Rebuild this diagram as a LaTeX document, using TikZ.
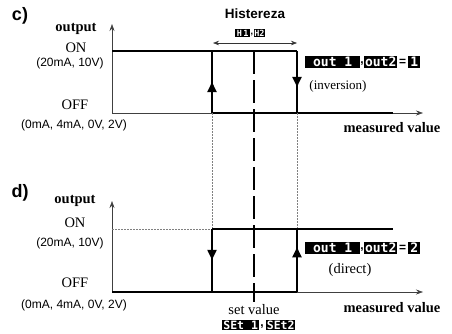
\documentclass[tikz,border=0pt]{standalone}
\usepackage{fontspec}
\setmainfont{Liberation Serif}
\setsansfont{Liberation Sans}
\newfontfamily\segfont{DejaVu Sans Mono}
\usetikzlibrary{arrows.meta,decorations.markings}
\tikzset{
  axis/.style={line width=0.6pt, black!75, -{Stealth[length=7pt,width=5pt]}},
  sig/.style={line width=2pt, black},
  guide/.style={line width=0.5pt, black!50, dash pattern=on 1.5pt off 1.5pt},
  centerline/.style={line width=1.5pt, black, dash pattern=on 23pt off 6pt},
  tri/.style={postaction={decorate, decoration={markings,
      mark=at position #1 with {\arrow{Triangle[length=10pt,width=9pt]}}}}},
  lbl/.style={inner sep=0pt, font=\fontsize{14.5}{16}\selectfont},
  blbl/.style={inner sep=0pt, font=\bfseries\fontsize{14.5}{16}\selectfont},
  sanslbl/.style={inner sep=0pt, font=\sffamily\fontsize{12}{14}\selectfont},
  panel/.style={inner sep=0pt, font=\sffamily\bfseries\fontsize{18}{20}\selectfont},
  seg/.style={fill=black, text=white, anchor=west, inner xsep=0pt, inner ysep=0pt,
      minimum height=11.5pt, font=\segfont\bfseries\fontsize{13}{13}\selectfont},
  smallseg/.style={seg, minimum height=8.5pt, font=\segfont\bfseries\fontsize{8.5}{8.5}\selectfont},
  punct/.style={inner sep=0pt, font=\sffamily\bfseries\fontsize{12}{12}\selectfont},
}
\begin{document}
\begin{tikzpicture}[x=1pt,y=-1pt]
\useasboundingbox (0,0) rectangle (452,333);

% ---------------- panel c ----------------
\coordinate (cO) at (112,113);
\coordinate (cY) at (112,24);
\coordinate (cX) at (423,113);
\coordinate (cTL) at (112,51);
\coordinate (cA) at (212,51);
\coordinate (cB) at (297,51);
\coordinate (cAb) at (212,113);
\coordinate (cBb) at (297,113);
\coordinate (cEnd) at (393,113);
\coordinate (cM) at (254,51);

\draw[axis] (cO) -- (cY);
\draw[axis] (cO) -- (cX);
\draw[sig] (cTL) -- (cB);
\draw[sig] (cAb) -- (cEnd);
\draw[sig, tri=0.5] (cAb) -- (cA);
\draw[sig, tri=0.58] (cB) -- (cBb);

\node[panel] (clab) at (20,16) {c)};
\node[blbl] (cout) at (76,29) {output};
\node[lbl] (con) at (76,48) {ON};
\node[sanslbl] (con2) at (70,63) {(20mA, 10V)};
\node[lbl] (coff) at (75,105) {OFF};
\node[sanslbl] (coff2) at (74,125) {(0mA, 4mA, 0V, 2V)};

\node[inner sep=0pt, font=\sffamily\bfseries\fontsize{13.5}{15}\selectfont] (hist) at (255,14) {Histereza};
\node[smallseg, minimum width=15pt] (h1) at (235,33) {H\,1};
\node[smallseg, minimum width=11.5pt] (h2) at (253.5,33) {H2};
\node[punct, font=\sffamily\bfseries\fontsize{9}{9}\selectfont] (hc) at (251.8,35) {,};
\coordinate (hL) at (213,43);
\coordinate (hR) at (297,43);
\draw[line width=0.6pt, black!80, {Stealth[length=6pt,width=4.5pt]}-{Stealth[length=6pt,width=4.5pt]}] (hL) -- (hR);

\node[seg, minimum width=55pt] (c1) at (305,62) {out 1};
\node[seg, minimum width=33pt] (c2) at (364,62) {out2};
\node[punct] (cc) at (362,64) {,};
\node[punct] (ceq) at (402.5,62) {=};
\node[seg, minimum width=12pt] (c3) at (408,62) {1};
\node[inner sep=0pt, font=\fontsize{13}{15}\selectfont] (inv) at (338,86) {(inversion)};
\node[blbl] (cmv) at (392,128) {measured value};

% ---------------- guides ----------------
\coordinate (dA) at (212,229);
\coordinate (dB) at (297,229);
\coordinate (cMend) at (254,302);
\draw[guide] (cAb) -- (dA);
\draw[guide] (cBb) -- (dB);
\draw[centerline] (cM) -- (cMend);

% ---------------- panel d ----------------
\coordinate (dO) at (112,292);
\coordinate (dY) at (112,201);
\coordinate (dX) at (423,292);
\coordinate (dTL) at (112,229);
\coordinate (dAb) at (212,292);
\coordinate (dBb) at (297,292);
\coordinate (dEnd) at (393,229);

\draw[axis] (dO) -- (dY);
\draw[axis] (dO) -- (dX);
\draw[guide] (dTL) -- (dA);
\draw[sig] (dA) -- (dEnd);
\draw[sig] (dO) -- (dBb);
\draw[sig, tri=0.49] (dA) -- (dAb);
\draw[sig, tri=0.71] (dBb) -- (dB);

\node[panel] (dlab) at (20,193) {d)};
\node[blbl] (dout) at (75,201) {output};
\node[lbl] (don) at (75,223) {ON};
\node[sanslbl] (don2) at (70,243) {(20mA, 10V)};
\node[lbl] (doff) at (75,283) {OFF};
\node[sanslbl] (doff2) at (74,305) {(0mA, 4mA, 0V, 2V)};

\node[seg, minimum width=55pt] (d1) at (305,248) {out 1};
\node[seg, minimum width=33pt] (d2) at (364,248) {out2};
\node[punct] (dc) at (362,250) {,};
\node[punct] (deq) at (402.5,248) {=};
\node[seg, minimum width=12pt] (d3) at (408,248) {2};
\node[lbl] (dir) at (350,270) {(direct)};
\node[lbl] (setv) at (254,310) {set value};
\node[seg, minimum width=37pt, minimum height=10.5pt, font=\segfont\bfseries\fontsize{11.5}{11.5}\selectfont] (s1) at (222,325) {SEt 1};
\node[seg, minimum width=29pt, minimum height=10.5pt, font=\segfont\bfseries\fontsize{11.5}{11.5}\selectfont] (s2) at (266,325) {SEt2};
\node[punct] (sc) at (262,327) {,};
\node[blbl] (dmv) at (392,308) {measured value};
\end{tikzpicture}
\end{document}
